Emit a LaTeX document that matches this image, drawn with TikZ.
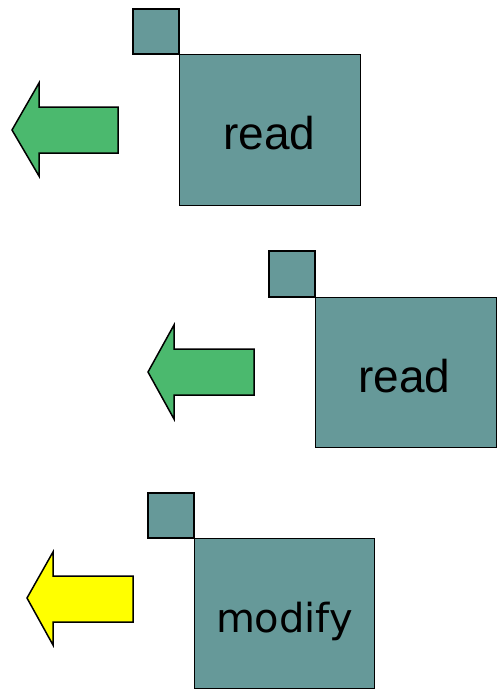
\documentclass[tikz,border=0pt]{standalone}
\usepackage{fontspec}
\setmainfont{Liberation Sans}
\newfontfamily\modfont{DejaVu Sans}
\definecolor{tealbox}{RGB}{102,153,153}
\definecolor{greenarr}{RGB}{75,185,110}
\definecolor{yellowarr}{RGB}{255,255,0}
\begin{document}
\begin{tikzpicture}[x=1pt,y=-1pt,
  box/.style={draw=black,line width=1.2pt,fill=tealbox},
  arr/.style={draw=black,line width=1.5pt,line join=miter},
  lbl/.style={anchor=base,inner sep=0pt,font=\fontsize{46}{50}\selectfont}]
\useasboundingbox (0,0) rectangle (500,693);
% block 1
\path[box] (133,9) rectangle (179,54) coordinate (s1);
\node[box,anchor=north west,minimum width=181pt,minimum height=151pt,inner sep=0pt] (b1) at (179,54) {};
\node[lbl] (t1) at (269.5,149) {read};
\path[arr,fill=greenarr] (12,130) -- (39,83) -- (39,107) -- (118,107) -- (118,153) -- (39,153) -- (39,176) -- cycle;
% block 2
\path[box] (269,251) rectangle (315,297) coordinate (s2);
\node[box,anchor=north west,minimum width=181pt,minimum height=150pt,inner sep=0pt] (b2) at (315,297) {};
\node[lbl] (t2) at (404.5,392) {read};
\path[arr,fill=greenarr] (148,372) -- (174,325) -- (174,349) -- (254,349) -- (254,395) -- (174,395) -- (174,419) -- cycle;
% block 3
\path[box] (148,493) rectangle (194,538) coordinate (s3);
\node[box,anchor=north west,minimum width=180pt,minimum height=150pt,inner sep=0pt] (b3) at (194,538) {};
\node[lbl,font=\modfont\fontsize{40}{46}\selectfont] (t3) at (284.5,632) {modify};
\path[arr,fill=yellowarr] (27,598) -- (53,552) -- (53,576) -- (133,576) -- (133,622) -- (53,622) -- (53,645) -- cycle;
\end{tikzpicture}
\end{document}
